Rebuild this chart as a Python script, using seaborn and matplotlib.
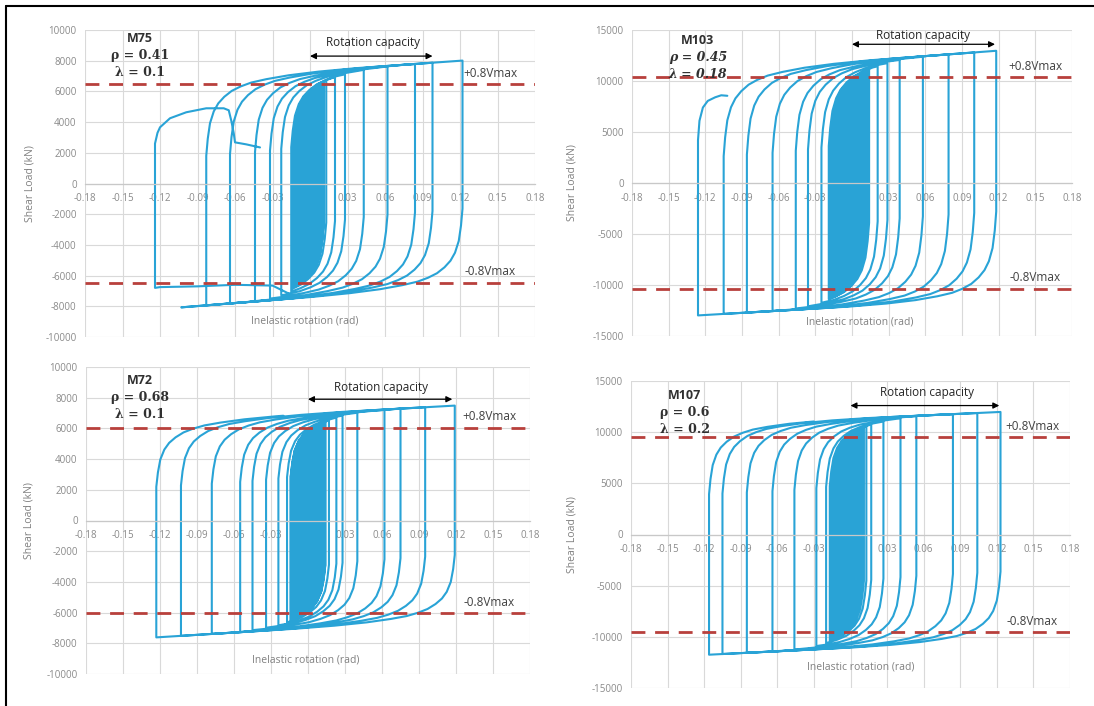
import numpy as np
import pandas as pd
import matplotlib
matplotlib.use('Agg')
import matplotlib.pyplot as plt
import seaborn as sns
from matplotlib.lines import Line2D

# --- Style --- #
sns.set_theme(style='white')
plt.rcParams['font.family'] = ['Open Sans', 'DejaVu Sans']

# --- Data --- #
names = ['M75', 'M103', 'M72', 'M107']
rho_text = ['ρ = 0.41', 'ρ = 0.45', 'ρ = 0.68', 'ρ = 0.6']
lam_text = ['λ = 0.1', 'λ = 0.18', 'λ = 0.1', 'λ = 0.2']
y_limits = [10000, 15000, 10000, 15000]
y_steps = [2000, 5000, 2000, 5000]
vmax_08 = [6450, 10350, 6050, 9550]

x_ticks = [-0.18, -0.15, -0.12, -0.09, -0.06, -0.03, 0, 0.03, 0.06, 0.09, 0.12, 0.15, 0.18]
x_tick_labels = ['-0.18', '-0.15', '-0.12', '-0.09', '-0.06', '-0.03', '0',
                 '0.03', '0.06', '0.09', '0.12', '0.15', '0.18']

# peak rotations of each cycle (positive / negative excursion), in test order
m75_pos = [0.0005, 0.001, 0.0015, 0.002, 0.0025, 0.003, 0.004, 0.005, 0.006, 0.007, 0.007, 0.008, 0.008,
           0.009, 0.009, 0.010, 0.010, 0.011, 0.011, 0.013, 0.020, 0.028, 0.043, 0.062, 0.084, 0.098, 0.122]
m75_neg = [-0.0005, -0.001, -0.0015, -0.002, -0.0025, -0.003, -0.004, -0.005, -0.006, -0.007, -0.008,
           -0.009, -0.009, -0.010, -0.011, -0.011, -0.012, -0.013, -0.013, -0.014, -0.015, -0.023,
           -0.032, -0.044, -0.064, -0.083, -0.103]

m103_pos = [0.0005, 0.001, 0.0015, 0.002, 0.0025, 0.003, 0.004, 0.005, 0.006, 0.007, 0.008, 0.009, 0.009,
            0.010, 0.011, 0.011, 0.012, 0.013, 0.013, 0.014, 0.021, 0.029, 0.039, 0.058, 0.079, 0.100, 0.118]
m103_neg = [-0.001, -0.002, -0.003, -0.004, -0.005, -0.006, -0.007, -0.008, -0.009, -0.010, -0.011,
            -0.012, -0.013, -0.014, -0.015, -0.016, -0.017, -0.018, -0.018, -0.019, -0.025, -0.036,
            -0.046, -0.065, -0.086, -0.105, -0.126]

m72_pos = [0.0005, 0.001, 0.0015, 0.002, 0.0025, 0.003, 0.004, 0.005, 0.006, 0.007, 0.008, 0.009, 0.010,
           0.011, 0.012, 0.012, 0.013, 0.014, 0.014, 0.017, 0.023, 0.028, 0.040, 0.062, 0.075, 0.095, 0.119]
m72_neg = [-0.0005, -0.001, -0.0015, -0.002, -0.0025, -0.003, -0.004, -0.005, -0.006, -0.007, -0.008,
           -0.009, -0.010, -0.011, -0.012, -0.012, -0.013, -0.014, -0.014, -0.017, -0.024, -0.034,
           -0.045, -0.055, -0.078, -0.103, -0.123]

m107_pos = [0.0005, 0.001, 0.0015, 0.002, 0.0025, 0.003, 0.004, 0.005, 0.006, 0.006, 0.007, 0.007, 0.008,
            0.008, 0.009, 0.009, 0.010, 0.010, 0.011, 0.013, 0.017, 0.027, 0.041, 0.054, 0.084, 0.104, 0.123]
m107_neg = [-0.001, -0.002, -0.003, -0.004, -0.005, -0.006, -0.007, -0.008, -0.009, -0.010, -0.011,
            -0.012, -0.013, -0.013, -0.014, -0.015, -0.015, -0.016, -0.016, -0.017, -0.020, -0.028,
            -0.046, -0.064, -0.085, -0.105, -0.116]

pos_peaks = [m75_pos, m103_pos, m72_pos, m107_pos]
neg_peaks = [m75_neg, m103_neg, m72_neg, m107_neg]

# load plateau (kN at zero rotation, kN per rad)
top_plateau = [(7300, 5800), (11900, 9000), (6950, 4500), (11300, 5500)]
bottom_plateau = [(-7400, 6500), (-12100, 7000), (-7000, 5000), (-11050, 6000)]
knee_frac = [0.66, 0.65, 0.70, 0.70]
curve_width = [0.12, 0.12, 0.13, 0.12]

# shape of the bend after the straight unloading / reloading part
curve_u = [0, 0.01, 0.025, 0.05, 0.08, 0.12, 0.17, 0.23, 0.30, 0.40, 0.55, 0.75, 1.0]
curve_gap = [1, 0.78, 0.58, 0.43, 0.33, 0.25, 0.18, 0.13, 0.09, 0.06, 0.03, 0.01, 0]

# last half cycle of M75 (down to the left with reduced load, then failure)
m75_end_rot = [-0.01, -0.03, -0.06, -0.09, -0.12, -0.124,
               -0.124, -0.122, -0.120, -0.112, -0.099, -0.083, -0.069, -0.065, -0.063, -0.061, -0.060, -0.051, -0.040]
m75_end_load = [-7450, -6650, -6600, -6700, -6750, -6800,
                2600, 3300, 3660, 4250, 4640, 4900, 4900, 4770, 4100, 3270, 2680, 2550, 2350]
# final (failure) branch of M103
m103_end_rot = [-0.126, -0.1248, -0.122, -0.118, -0.112, -0.107, -0.102]
m103_end_load = [4200, 6100, 7400, 8050, 8400, 8600, 8550]
end_rot = [m75_end_rot, m103_end_rot, None, None]
end_load = [m75_end_load, m103_end_load, None, None]
final_up_to = [None, None, -0.02, -0.03]

# --- Layout (pixel boxes of the four plot areas) --- #
W, H = 1094, 706
boxes = [(85, 30, 535, 337), (632, 30, 1072, 336), (86, 367, 530, 674), (631, 381, 1070, 688)]
ylabel_x = [-0.111, -0.125, -0.115, -0.121]

# text placement (data coords)
name_xy = [(-0.136, 9450), (-0.126, 14000), (-0.136, 9150), (-0.136, 13600)]
cap_text_xy = [(0.050, 9200), (0.058, 14500), (0.059, 8650), (0.063, 13850)]
cap_arrow = [(0.0, 0.098, 8300), (0.0, 0.117, 13600), (0.0, 0.117, 7900), (0.0, 0.122, 12600)]
vmax_label_x = [0.144, 0.150, 0.147, 0.149]
xlabel_xy = [(-0.004, -8950), (0.006, -13600), (-0.002, -9100), (0.008, -12950)]

line_color = '#29A3D6'
grid_color = '#d9d9d9'


def build_branch(x0, y0, x1, env, knee, width):
    a, b = env
    d = 1.0 if x1 > x0 else -1.0
    start_env = a + b * x0
    yk = y0 + knee * (start_env - y0)
    gap = start_env - yk
    u_end = abs(x1 - x0) / width
    xs, ys = [x0], [yk]
    for u, g in zip(curve_u[1:], curve_gap[1:]):
        if u >= u_end:
            break
        x = x0 + d * u * width
        xs.append(x)
        ys.append(a + b * x - g * gap)
    g_end = np.interp(u_end, curve_u, curve_gap)
    xs.append(x1)
    ys.append(a + b * x1 - g_end * gap)
    return xs, ys


def build_path(i):
    xs, ys = [0.0], [0.0]
    for xr, xl in zip(pos_peaks[i], neg_peaks[i] + [None]):
        bx, by = build_branch(xs[-1], ys[-1], xr, top_plateau[i], knee_frac[i], curve_width[i])
        xs += bx
        ys += by
        if xl is None:
            break
        bx, by = build_branch(xs[-1], ys[-1], xl, bottom_plateau[i], knee_frac[i], curve_width[i])
        xs += bx
        ys += by
    if len(neg_peaks[i]) == len(pos_peaks[i]) - 1:
        pass
    if end_rot[i] is not None:
        if len(neg_peaks[i]) < len(pos_peaks[i]):
            # straight unloading before the recorded end of the test
            bx, by = build_branch(xs[-1], ys[-1], end_rot[i][0], bottom_plateau[i], knee_frac[i], curve_width[i])
            xs += bx[:-1]
            ys += by[:-1]
        xs += end_rot[i]
        ys += end_load[i]
    elif final_up_to[i] is not None:
        bx, by = build_branch(xs[-1], ys[-1], final_up_to[i], top_plateau[i], knee_frac[i], curve_width[i])
        xs += bx
        ys += by
    return pd.DataFrame({'rotation': xs, 'load': ys})


fig = plt.figure(figsize=(W / 100, H / 100), dpi=100)

for i in range(4):
    l, t, r, b = boxes[i]
    ax = fig.add_axes([l / W, 1 - b / H, (r - l) / W, (b - t) / H])
    df = build_path(i)
    sns.lineplot(data=df, x='rotation', y='load', sort=False, estimator=None,
                 color=line_color, lw=1.5, ax=ax)

    lim = y_limits[i]
    ax.set_xlim(-0.18, 0.18)
    ax.set_ylim(-lim, lim)
    ax.set_xticks(x_ticks)
    ax.set_xticklabels(x_tick_labels)
    ax.set_yticks(np.arange(-lim, lim + 1, y_steps[i]))
    ax.set_yticklabels([str(v) for v in np.arange(-lim, lim + 1, y_steps[i])])

    for s in ['top', 'right', 'left']:
        ax.spines[s].set_visible(False)
    ax.spines['bottom'].set_position(('data', 0))
    ax.spines['bottom'].set_color('#c8c8c8')
    ax.spines['bottom'].set_linewidth(0.9)
    ax.grid(True, color=grid_color, lw=0.8)
    ax.set_axisbelow(True)
    ax.tick_params(axis='x', length=0, pad=7, labelsize=7, labelcolor='#8a8a8a')
    ax.tick_params(axis='y', length=0, pad=6, labelsize=7, labelcolor='#8a8a8a')

    # +/- 0.8 Vmax lines
    for sign, lab in [(1, '+0.8Vmax'), (-1, '-0.8Vmax')]:
        ax.axhline(sign * vmax_08[i], color='#B8403C', lw=2, dashes=(5, 3.5), zorder=3)
        ax.annotate(lab, xy=(vmax_label_x[i], sign * vmax_08[i]), xytext=(0, 3),
                    textcoords='offset points', ha='center', va='bottom',
                    fontsize=8.5, color='#404040')

    # specimen label
    nx, ny = name_xy[i]
    step = lim * 0.112
    italic = 'italic' if i == 1 else 'normal'
    ax.text(nx, ny, names[i], ha='center', va='center', fontsize=9, fontweight='bold', color='#303030')
    ax.text(nx, ny - step, rho_text[i], ha='center', va='center', fontsize=9,
            family='DejaVu Serif', fontweight='bold', style=italic, color='#303030')
    ax.text(nx, ny - 2 * step, lam_text[i], ha='center', va='center', fontsize=9,
            family='DejaVu Serif', fontweight='bold', style=italic, color='#303030')

    # rotation capacity arrow
    x_a, x_b, y_arr = cap_arrow[i]
    ax.annotate('', xy=(x_b, y_arr), xytext=(x_a, y_arr),
                arrowprops=dict(arrowstyle='<|-|>', color='black', lw=0.9,
                                mutation_scale=9, shrinkA=0, shrinkB=0))
    tx, ty = cap_text_xy[i]
    ax.text(tx, ty, 'Rotation capacity', ha='center', va='center', fontsize=8.5, color='#262626')

    # axis titles
    xx, xy = xlabel_xy[i]
    ax.text(xx, xy, 'Inelastic rotation (rad)', ha='center', va='center', fontsize=7.5, color='#808080')
    ax.set_xlabel('')
    ax.set_ylabel('Shear Load (kN)', fontsize=7.5, color='#808080')
    ax.yaxis.set_label_coords(ylabel_x[i], 0.5)

# frame lines of the scanned figure
fig.add_artist(Line2D([6 / W, 6 / W], [0, 1 - 6 / H], color='black', lw=1.5, transform=fig.transFigure))
fig.add_artist(Line2D([6 / W, 1], [1 - 6 / H, 1 - 6 / H], color='black', lw=1.5, transform=fig.transFigure))

fig.savefig('out.png', dpi=100, facecolor='white')
